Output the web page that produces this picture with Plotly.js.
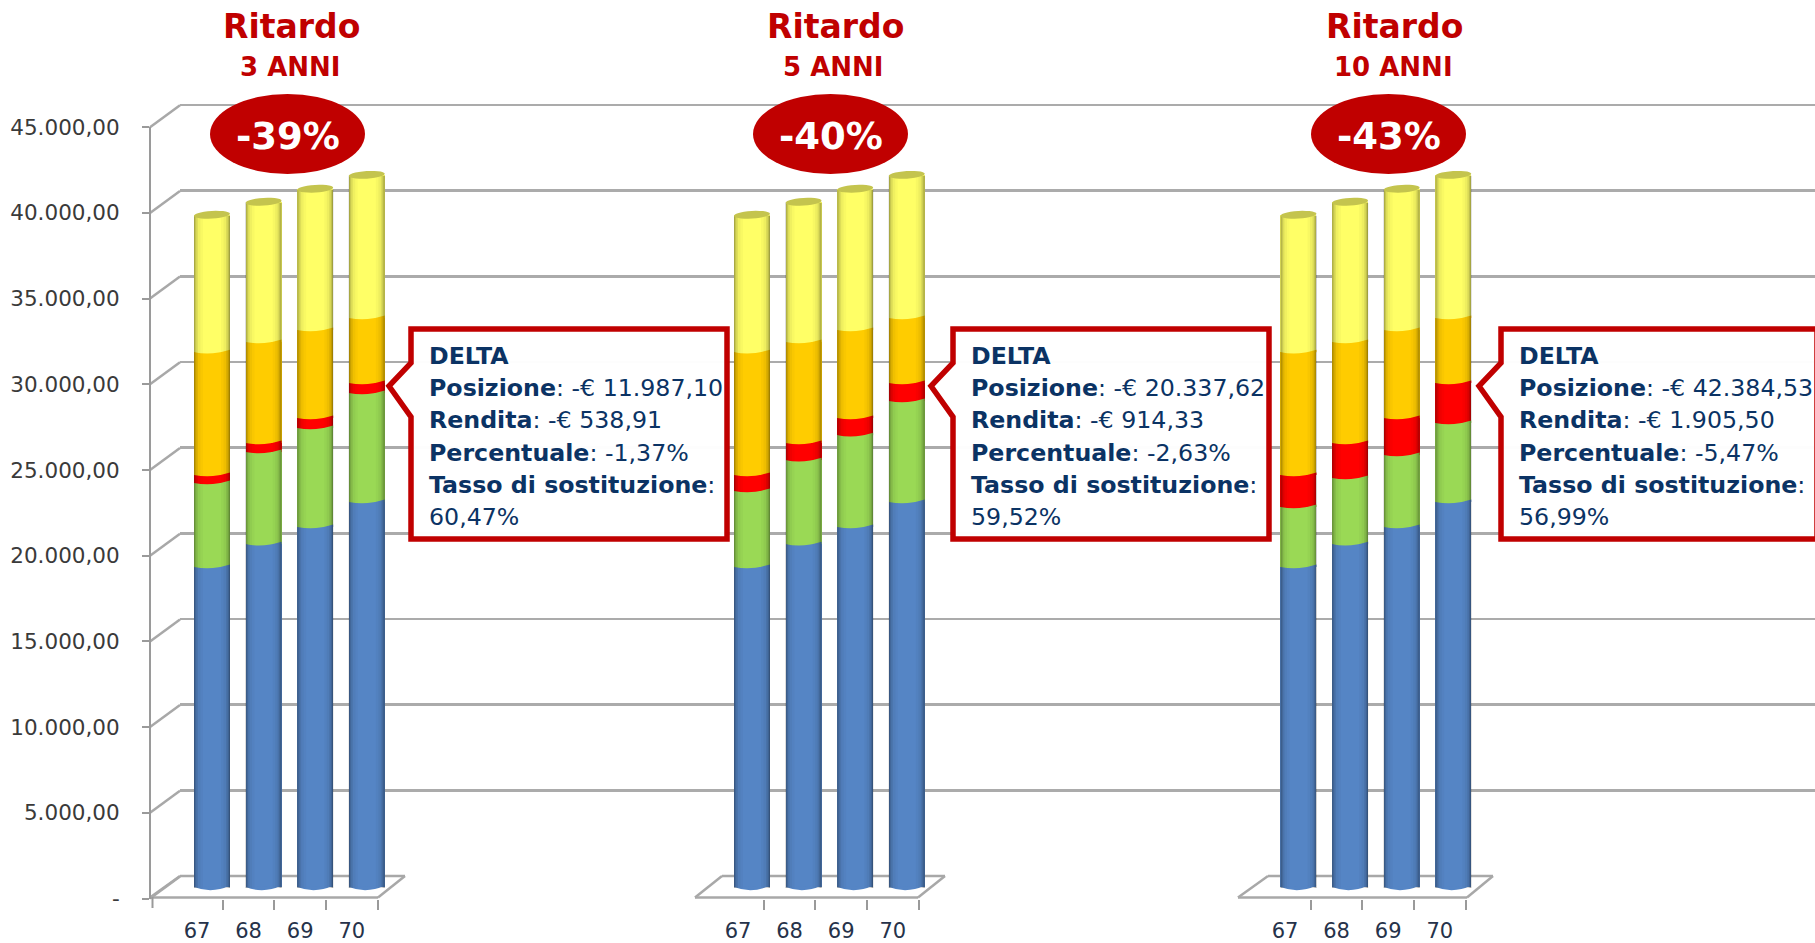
<!DOCTYPE html>
<html>
<head>
<meta charset="utf-8">
<script src="https://cdn.plot.ly/plotly-3.0.1.min.js"></script>
<style>html,body{margin:0;padding:0;background:#fff;overflow:hidden}#chart{width:1815px;height:943px}</style>
</head>
<body>
<div id="chart"></div>
<script>
// ---- data ----
const categories = [67, 68, 69, 70];
const yTickValues = [0, 5000, 10000, 15000, 20000, 25000, 30000, 35000, 40000, 45000];
const yTickLabels = ['-', '5.000,00', '10.000,00', '15.000,00', '20.000,00', '25.000,00', '30.000,00', '35.000,00', '40.000,00', '45.000,00'];

const blu = [18670, 20000, 21000, 22460];
const arancio = [7160, 5900, 5140, 3800];
const giallo = [8020, 8180, 8240, 8350];

const verde3 = [4900, 5380, 5780, 6360];
const rosso3 = [470, 520, 580, 580];
const verde5 = [4440, 4900, 5360, 5890];
const rosso5 = [930, 1000, 1000, 1050];
const verde10 = [3500, 3860, 4200, 4610];
const rosso10 = [1870, 2040, 2160, 2330];

const anni = ['3 ANNI', '5 ANNI', '10 ANNI'];
const badge = ['-39%', '-40%', '-43%'];
const posizione = ['-€ 11.987,10', '-€ 20.337,62', '-€ 42.384,53'];
const rendita = ['-€ 538,91', '-€ 914,33', '-€ 1.905,50'];
const percentuale = ['-1,37%', '-2,63%', '-5,47%'];
const tasso = ['60,47%', '59,52%', '56,99%'];

// ---- styling and layout ----
const W = 1815, H = 943;
const px = x => x / W, py = y => 1 - y / H;
const RED = '#C00000', NAVY = '#0B3364', GRID = '#ABABAB', FONT = '"DejaVu Sans", Verdana, sans-serif';
const C = {blu: '#5585C5', verde: '#9AD955', rosso: '#FF0000', arancio: '#FFCC00', giallo: '#FFFF66'};

const unitPerPx = 5000 / 85.7;       // value units per vertical pixel
const catPx = 51.6;                  // pixels per category
const barW = 36 / catPx;
const yMax = 45000;
const axisH = yMax / unitPerPx;
const frontY0 = 898.5;

const panels = [
  {front: 171.2, bars: 186.2, box: 411, text: 428, titleX: 291, anniX: 290, badgeX: 287.5,
   floor: [150, 180, 378, 405], verde: verde3, rosso: rosso3},
  {front: 712.2, bars: 726.2, box: 953, text: 970, titleX: 835, anniX: 833, badgeX: 830.5,
   floor: [695, 722, 918, 945], verde: verde5, rosso: rosso5},
  {front: 1259.2, bars: 1272.7, box: 1501, text: 1518, titleX: 1394, anniX: 1393, badgeX: 1388.5,
   floor: [1238, 1268, 1467, 1493], verde: verde10, rosso: rosso10}
];

const layout = {
  width: W, height: H, margin: {l: 0, r: 0, t: 0, b: 0},
  paper_bgcolor: '#fff', plot_bgcolor: 'rgba(0,0,0,0)',
  barmode: 'stack', showlegend: false, hovermode: false,
  // back wall: gridlines only (range runs a little past the top so its line is kept)
  xaxis: {domain: [px(180), 1], range: [0, 1], visible: true, showgrid: false, zeroline: false, showticklabels: false, ticks: '', showline: false},
  yaxis: {domain: [py(876), py(101)], range: [0, yMax + 4 * unitPerPx], anchor: 'x', tickmode: 'array',
          tickvals: yTickValues.slice(1), showticklabels: false, ticks: '', showgrid: true,
          gridcolor: GRID, gridwidth: 2.5, zeroline: false, showline: false},
  // front plane: value labels
  yaxis2: {domain: [py(frontY0), py(frontY0 - axisH)], range: [0, yMax], anchor: 'free', position: px(150),
           tickmode: 'array', tickvals: yTickValues, ticktext: yTickLabels, ticks: 'outside', ticklen: 7, tickwidth: 2,
           tickcolor: '#9A9A9A', showline: true, linecolor: '#9A9A9A', linewidth: 2, showgrid: false, zeroline: false,
           ticklabelstandoff: 18, tickfont: {family: FONT, size: 21.5, color: '#3A3A3A'}},
  // bar plane, half way into the depth of the floor
  yaxis3: {domain: [py(897), py(887 - axisH)], range: [-10 * unitPerPx, yMax], anchor: 'x5', visible: false, fixedrange: true},
  shapes: [], annotations: []
};

const traces = [{x: [0, 1], y: [0, 0], xaxis: 'x', yaxis: 'y', type: 'scatter', mode: 'none', hoverinfo: 'skip'}];

panels.forEach((p, i) => {
  const fx = 'xaxis' + (i + 2), bx = 'xaxis' + (i + 5);
  layout[fx] = {domain: [px(p.front), px(p.front + 4 * catPx)], range: [66.5, 70.5], anchor: 'y2',
    tickmode: 'array', tickvals: categories, ticktext: categories.map(String), ticks: '', showgrid: false, zeroline: false,
    showline: false, ticklabelstandoff: 17, tickfont: {family: FONT, size: 21, color: '#26324A'},
    minor: {tickmode: 'array', tickvals: categories.map(c => c + 0.5), ticks: 'outside', ticklen: 10, tickwidth: 2, tickcolor: '#9A9A9A', showgrid: false}};
  layout[bx] = {domain: [px(p.bars), px(p.bars + 4 * catPx)], range: [66.5, 70.5], anchor: 'y3', visible: false, fixedrange: true};

  traces.push({x: categories, y: categories.map(() => 0), xaxis: 'x' + (i + 2), yaxis: 'y2', type: 'scatter', mode: 'none', hoverinfo: 'skip'});

  const series = [[blu, C.blu], [p.verde, C.verde], [p.rosso, C.rosso], [arancio, C.arancio], [giallo, C.giallo]];
  series.forEach(([vals, col]) => {
    traces.push({x: categories, y: vals, xaxis: 'x' + (i + 5), yaxis: 'y3', type: 'bar', width: barW,
      marker: {color: col, line: {width: 0}}, hoverinfo: 'skip'});
  });

  // floor and wall furniture
  const [fl, bl, fr, br] = p.floor;
  const floorPts = [[fl, 897.5, fr, 897.5], [bl, 876, br, 876], [fl, 897.5, bl, 876], [fr, 897.5, br, 876]];
  floorPts.forEach(f => layout.shapes.push({type: 'line', xref: 'paper', yref: 'paper', layer: 'below',
    x0: px(f[0]), y0: py(f[1]), x1: px(f[2]), y1: py(f[3]), line: {color: '#A8A8A8', width: 2.5}}));

  // cylinder rendering, all derived from the stacked values
  const xref = 'x' + (i + 5), yref = 'y3';
  const dx = v => v / catPx, dy = v => v * unitPerPx;
  categories.forEach((c, k) => {
    const xL = c - barW / 2, xR = c + barW / 2;
    let acc = 0;
    const tops = series.map(([v]) => (acc += v[k]));
    const pathShape = (d, col) => layout.shapes.push({type: 'path', xref, yref, layer: 'above', path: d, fillcolor: col, line: {width: 0}});
    // curved base
    pathShape(`M ${xL} 0 Q ${c} ${dy(-7)} ${xR} ${dy(1.5)} Z`, C.blu);
    // curved joints between segments
    for (let s = 0; s < 4; s++) {
      const v = tops[s], up = series[s + 1][1], lo = series[s][1];
      pathShape(`M ${xL} ${v} Q ${c} ${v + dy(-3.5)} ${xR} ${v + dy(2.5)} Z`, up);
      pathShape(`M ${xR} ${v + dy(2.5)} L ${xR} ${v} L ${xR - dx(9.5)} ${v} Z`, lo);
    }
    // cylindrical shading
    const shade = [[0, 1.2, .34], [1.2, 2.4, .22], [2.4, 4, .13], [4, 6.5, .06], [6.5, 9, .025]];
    shade.forEach(([a, b, o]) => {
      const t = tops[4] + dy(-1);
      [[xL + dx(a), xL + dx(b)], [xR - dx(b), xR - dx(a)]].forEach(([x0, x1], side) => {
        layout.shapes.push({type: 'rect', xref, yref, layer: 'above', x0, x1, y0: dy(-1), y1: t,
          fillcolor: `rgba(0,0,0,${side ? o * 1.1 : o})`, line: {width: 0}});
      });
    });
    // top cap: tilted ellipse
    const pts = [];
    const tilt = -3.5 * Math.PI / 180, n = 28;
    for (let a = 0; a < n; a++) {
      const t = 2 * Math.PI * a / n, ex = 18 * Math.cos(t), ey = 3.8 * Math.sin(t);
      const rx = ex * Math.cos(tilt) - ey * Math.sin(tilt), ry = ex * Math.sin(tilt) + ey * Math.cos(tilt);
      pts.push((a ? 'L ' : 'M ') + (c + dx(rx)) + ' ' + (tops[4] + dy(-ry)));
    }
    pathShape(pts.join(' ') + ' Z', '#C4C44E');
  });

  // badge
  layout.shapes.push({type: 'circle', xref: 'paper', yref: 'paper', layer: 'above', x0: px(p.badgeX - 77.5), x1: px(p.badgeX + 77.5),
    y0: py(174), y1: py(94), fillcolor: RED, line: {width: 0}});

  // callout
  const L = p.box, R = L + 316;
  const dp = `M ${px(L)} ${py(329)} L ${px(R)} ${py(329)} L ${px(R)} ${py(539)} L ${px(L)} ${py(539)} L ${px(L)} ${py(417)} L ${px(L - 22)} ${py(386)} L ${px(L)} ${py(363)} Z`;
  layout.shapes.push({type: 'path', xref: 'paper', yref: 'paper', layer: 'above', path: dp, fillcolor: 'rgba(255,255,255,0.97)', line: {color: RED, width: 5.5}});

  const note = (x, y, text, size, color, anchor) => layout.annotations.push({xref: 'paper', yref: 'paper', x: px(x), y: py(y), text, showarrow: false,
    xanchor: anchor || 'center', yanchor: 'middle', align: anchor || 'center', borderpad: 0, font: {family: FONT, size, color}});

  note(p.titleX, 26.5, '<b>Ritardo</b>', 33, RED);
  note(p.anniX, 67, '<b>' + anni[i] + '</b>', 26, RED);
  note(p.badgeX, 137, '<b>' + badge[i] + '</b>', 37, '#FFFFFF');
  const rows = ['<b>DELTA</b>', `<b>Posizione</b>: ${posizione[i]}`, `<b>Rendita</b>: ${rendita[i]}`,
    `<b>Percentuale</b>: ${percentuale[i]}`, '<b>Tasso di sostituzione</b>:', tasso[i]];
  rows.forEach((r, k) => note(p.text, 356 + k * 32.2, r, 23.7, NAVY, 'left'));
});

// left wall diagonals, placed from the tick values
yTickValues.forEach(v => {
  const y = frontY0 - v / unitPerPx;
  layout.shapes.push({type: 'line', xref: 'paper', yref: 'paper', layer: 'below',
    x0: px(150), x1: px(180), y0: py(y), y1: py(y - 22), line: {color: '#A8A8A8', width: 2.5}});
});
// first tick under the front-left corner
layout.shapes.push({type: 'line', xref: 'paper', yref: 'paper', layer: 'below', x0: px(152.5), x1: px(152.5), y0: py(897), y1: py(908), line: {color: '#9A9A9A', width: 2}});

Plotly.newPlot('chart', traces, layout, {displayModeBar: false, staticPlot: true, responsive: false});
</script>
</body>
</html>
